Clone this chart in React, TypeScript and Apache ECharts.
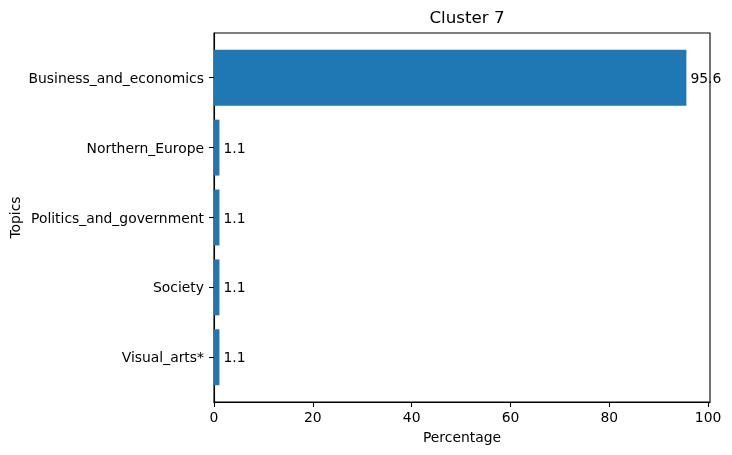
import React, { useEffect, useRef } from "react";
import * as echarts from "echarts";

const categories = ["Business_and_economics", "Northern_Europe", "Politics_and_government", "Society", "Visual_arts*"];
const values = [95.6, 1.1, 1.1, 1.1, 1.1];
const xTicks = [0, 20, 40, 60, 80, 100];
const title = "Cluster 7";
const xName = "Percentage";
const yName = "Topics";

const FONT = "DejaVu Sans";
const xMax = Math.max(...values) * 1.05;

export default function App() {
  const ref = useRef<HTMLDivElement>(null);
  useEffect(() => {
    const chart = echarts.init(ref.current!, null, { renderer: "svg" });
    chart.setOption({
      animation: false,
      textStyle: { fontFamily: FONT, color: "#000" },
      title: {
        text: title,
        left: 462,
        top: 3,
        textAlign: "center",
        textStyle: { fontFamily: FONT, fontSize: 16.7, fontWeight: "normal", color: "#000" },
      },
      grid: [
        { left: 214, right: 22, top: 33, bottom: 53, show: true, borderColor: "#000", borderWidth: 1.1, backgroundColor: "transparent", outerBoundsMode: "none", containLabel: false },
        { left: 214, right: 22, top: 42.8, bottom: 62.8, outerBoundsMode: "none", containLabel: false },
      ],
      xAxis: [
        {
          gridIndex: 0,
          type: "value",
          min: 0,
          max: xMax,
          name: xName,
          nameLocation: "middle",
          nameGap: 28,
          nameTextStyle: { fontFamily: FONT, fontSize: 13.9, color: "#000" },
          axisLine: { show: true, lineStyle: { color: "#000", width: 1.1 } },
          axisTick: { show: true, length: 5, lineStyle: { color: "#000", width: 1.1 }, customValues: xTicks },
          axisLabel: { show: true, margin: 8, fontFamily: FONT, fontSize: 13.9, color: "#000", customValues: xTicks },
          splitLine: { show: false },
        },
        {
          gridIndex: 1,
          type: "value",
          min: 0,
          max: xMax,
          show: false,
        },
      ],
      yAxis: [
        {
          gridIndex: 0,
          type: "value",
          min: 0,
          max: 1,
          name: yName,
          nameLocation: "middle",
          nameGap: 192,
          nameRotate: 90,
          nameTextStyle: { fontFamily: FONT, fontSize: 13.9, color: "#000" },
          axisLine: { show: true, lineStyle: { color: "#000", width: 1.1 } },
          axisTick: { show: false },
          axisLabel: { show: false },
          splitLine: { show: false },
        },
        {
          gridIndex: 1,
          type: "category",
          data: categories,
          inverse: true,
          axisLine: { show: false },
          axisTick: { show: true, length: 5, alignWithLabel: true, lineStyle: { color: "#000", width: 1.1 } },
          axisLabel: { margin: 10, fontFamily: FONT, fontSize: 13.9, color: "#000" },
          splitLine: { show: false },
        },
      ],
      series: [
        {
          type: "bar",
          xAxisIndex: 1,
          yAxisIndex: 1,
          data: values,
          barCategoryGap: "20%",
          itemStyle: { color: "#1f77b4" },
          label: {
            show: true,
            position: "right",
            distance: 4,
            fontFamily: FONT,
            fontSize: 13.9,
            color: "#000",
            formatter: (p: any) => Number(p.value).toFixed(1),
          },
        },
      ],
    });
    return () => chart.dispose();
  }, []);
  return <div ref={ref} style={{ position: "fixed", left: 0, top: 0, width: 732, height: 455 }} />;
}
